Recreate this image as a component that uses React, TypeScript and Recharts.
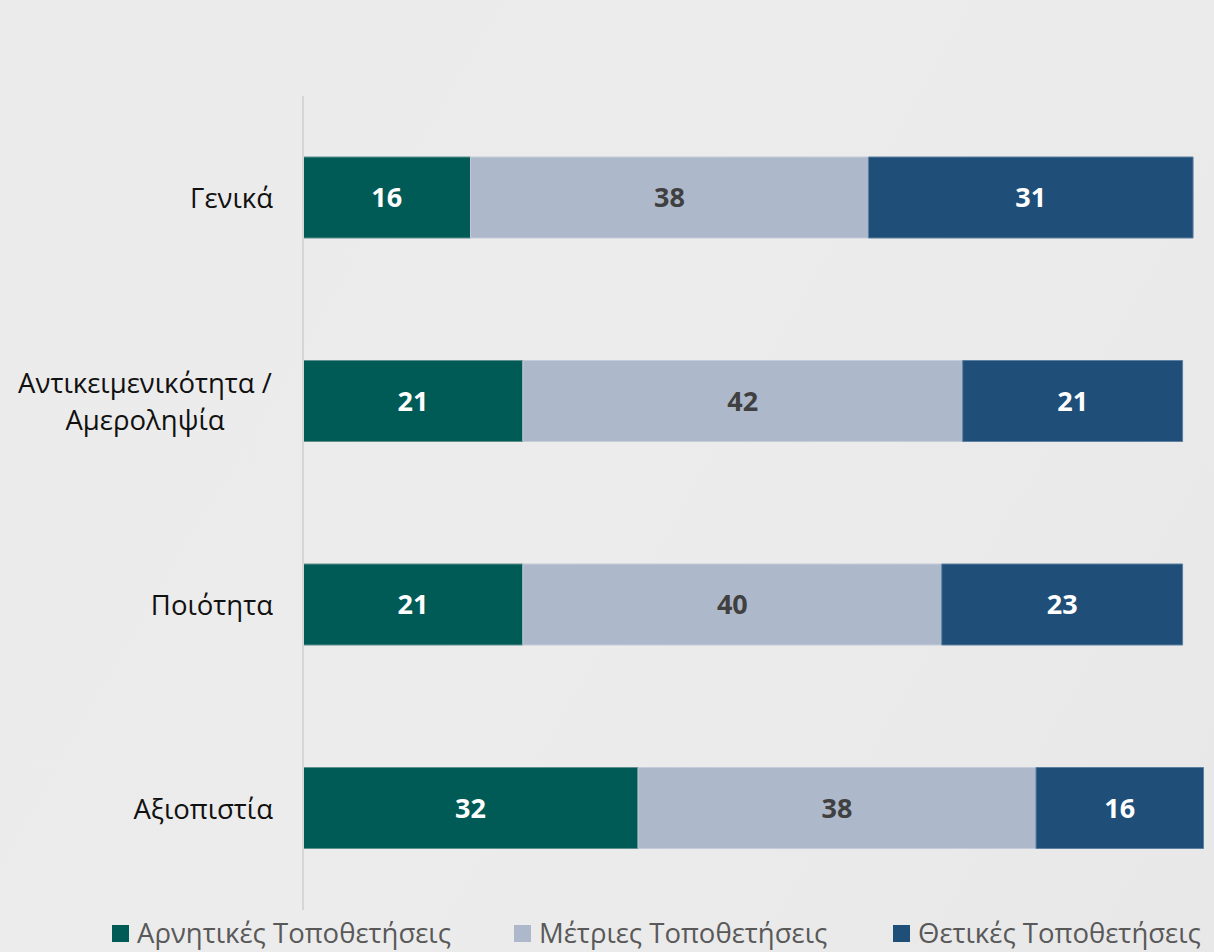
import { BarChart, Bar, XAxis, YAxis, LabelList } from 'recharts';

const categories = ['Γενικά', 'Αντικειμενικότητα / Αμεροληψία', 'Ποιότητα', 'Αξιοπιστία'];
const negative = [16, 21, 21, 32];
const moderate = [38, 42, 40, 38];
const positive = [31, 21, 23, 16];

const seriesNames = ['Αρνητικές Τοποθετήσεις', 'Μέτριες Τοποθετήσεις', 'Θετικές Τοποθετήσεις'];
const colors = ['#005b56', '#adb8cb', '#1f4e79'];

const data = categories.map((c, i) => ({
  name: c,
  neg: negative[i],
  mod: moderate[i],
  pos: positive[i],
}));

const FONT = '"Open Sans", "Noto Sans", sans-serif';

// long names break after the slash, lines centered, block right-aligned
function CategoryTick({ x, y, payload }: any) {
  const label: string = payload.value;
  const parts = label.split(' / ');
  const lines = parts.length > 1 ? [parts[0] + ' /', parts[1]] : [label];
  const lineH = 37;
  const startY = y - ((lines.length - 1) * lineH) / 2;
  const right = x - 22;
  const blockW = 256;
  return (
    <g>
      {lines.map((ln, i) => (
        <text
          key={i}
          x={lines.length > 1 ? right - blockW / 2 : right}
          y={startY + i * lineH}
          textAnchor={lines.length > 1 ? 'middle' : 'end'}
          dominantBaseline="central"
          fontFamily={FONT}
          fontSize={27.5}
          fill="#111"
        >
          {ln}
        </text>
      ))}
    </g>
  );
}

function ChartLegend() {
  const lefts = [112, 514, 893];
  return (
    <div style={{ position: 'absolute', left: 0, top: 915, width: 1214, height: 36 }}>
      {seriesNames.map((n, i) => (
        <div
          key={n}
          style={{
            position: 'absolute',
            left: lefts[i],
            top: 0,
            height: 36,
            display: 'flex',
            alignItems: 'center',
            fontFamily: FONT,
            fontSize: 27.5,
            lineHeight: '36px',
            color: '#595959',
            whiteSpace: 'nowrap',
          }}
        >
          <span style={{ width: 17, height: 17, background: colors[i], marginRight: 8, display: 'inline-block', flexShrink: 0 }} />
          <span>{n}</span>
        </div>
      ))}
    </div>
  );
}

export default function App() {
  return (
    <div
      style={{
        position: 'fixed',
        left: 0,
        top: 0,
        width: 1214,
        height: 952,
        overflow: 'hidden',
        background: 'linear-gradient(120deg, #ebebeb 0%, #ececec 50%, #e8e8e8 100%)',
      }}
    >
      <BarChart
        layout="vertical"
        width={1214}
        height={952}
        data={data}
        margin={{ top: 96, right: 0, bottom: 42, left: 0 }}
        barSize={81}
      >
        <XAxis type="number" hide domain={[0, 87]} />
        <YAxis
          type="category"
          dataKey="name"
          width={303}
          axisLine={{ stroke: '#d6d6d6', strokeWidth: 2 }}
          tickLine={false}
          tick={<CategoryTick />}
          interval={0}
        />
        <Bar dataKey="neg" stackId="a" fill={colors[0]} stroke="#5f8f8c" strokeWidth={1} isAnimationActive={false}>
          <LabelList dataKey="neg" position="center" fill="#fff" fontWeight="bold" fontSize={27} fontFamily={FONT} />
        </Bar>
        <Bar dataKey="mod" stackId="a" fill={colors[1]} stroke="#c3ccda" strokeWidth={1} isAnimationActive={false}>
          <LabelList dataKey="mod" position="center" fill="#404040" fontWeight="bold" fontSize={27} fontFamily={FONT} />
        </Bar>
        <Bar dataKey="pos" stackId="a" fill={colors[2]} stroke="#5d7fa0" strokeWidth={1} isAnimationActive={false}>
          <LabelList dataKey="pos" position="center" fill="#fff" fontWeight="bold" fontSize={27} fontFamily={FONT} />
        </Bar>
      </BarChart>
      <ChartLegend />
    </div>
  );
}
